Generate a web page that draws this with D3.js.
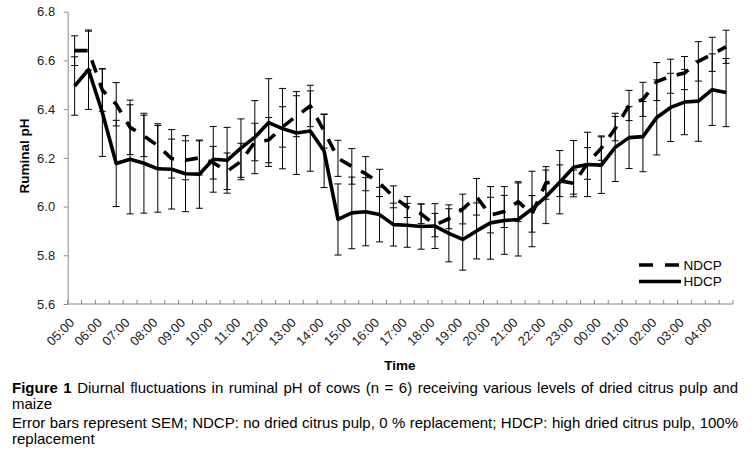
<!DOCTYPE html>
<html><head><meta charset="utf-8">
<script src="https://cdn.jsdelivr.net/npm/d3@7"></script>
<style>
body{margin:0;background:#fff}
svg{display:block}
text{font-family:"Liberation Sans",Arial,Helvetica,sans-serif}
</style>
</head><body>
<svg id="c" width="756" height="451"></svg>
<script>
const times = ["05:00","05:30","06:00","06:30","07:00","07:30","08:00","08:30","09:00","09:30",
  "10:00","10:30","11:00","11:30","12:00","12:30","13:00","13:30","14:00","14:30",
  "15:00","15:30","16:00","16:30","17:00","17:30","18:00","18:30","19:00","19:30",
  "20:00","20:30","21:00","21:30","22:00","22:30","23:00","23:30","00:00","00:30",
  "01:00","01:30","02:00","02:30","03:00","03:30","04:00","04:30"];
const tickLabels = ["05:00","06:00","07:00","08:00","09:00","10:00","11:00","12:00","13:00","14:00",
  "15:00","16:00","17:00","18:00","19:00","20:00","21:00","22:00","23:00","00:00",
  "01:00","02:00","03:00","04:00"];
const ndcp = [6.64,6.64,6.478,6.42,6.325,6.29,6.25,6.197,6.19,6.20,
  6.18,6.145,6.185,6.265,6.273,6.327,6.371,6.413,6.31,6.198,
  6.165,6.135,6.097,6.04,5.998,5.97,5.924,5.95,5.99,6.04,
  5.965,5.98,6.02,5.97,6.097,6.106,6.095,6.177,6.24,6.32,
  6.415,6.44,6.513,6.535,6.548,6.596,6.625,6.656];
const ndcpSem = [0.061,0.08,0.087,0.089,0.112,0.085,0.09,0.08,0.08,0.07,
  0.067,0.075,0.075,0.077,0.093,0.083,0.084,0.085,0.07,0.074,
  0.073,0.07,0.056,0.045,0.043,0.04,0.048,0.041,0.061,0.075,
  0.073,0.066,0.082,0.075,0.067,0.065,0.055,0.065,0.05,0.05,
  0.062,0.07,0.078,0.07,0.068,0.081,0.07,0.068];
const hdcp = [6.495,6.562,6.386,6.177,6.194,6.178,6.155,6.153,6.135,6.133,
  6.194,6.19,6.24,6.285,6.345,6.32,6.302,6.31,6.228,5.947,
  5.974,5.979,5.967,5.926,5.923,5.918,5.92,5.89,5.865,5.9,
  5.933,5.943,5.947,5.99,6.04,6.1,6.161,6.173,6.17,6.243,
  6.283,6.287,6.366,6.407,6.429,6.433,6.48,6.468];
const hdcpSem = [0.12,0.163,0.18,0.177,0.224,0.205,0.178,0.163,0.156,0.14,
  0.135,0.135,0.12,0.15,0.18,0.165,0.17,0.165,0.15,0.146,
  0.147,0.14,0.112,0.088,0.09,0.093,0.092,0.117,0.126,0.115,
  0.149,0.139,0.15,0.155,0.11,0.13,0.11,0.132,0.116,0.14,
  0.127,0.144,0.154,0.14,0.134,0.165,0.147,0.14];
const yTicks = [5.6,5.8,6.0,6.2,6.4,6.6,6.8];
const seriesNames = ["NDCP","HDCP"];

const svg = d3.select("#c");
const L = 67.7, R = 733, T = 11.7, B = 304;
const axisCol = "#878787";
const x = d3.scaleBand().domain(times).range([L, R]);
const y = d3.scaleLinear().domain([5.6, 6.8]).range([B, T]);
const cx = t => x(t) + x.bandwidth() / 2;

// Y axis
const ya = svg.append("g").attr("transform", `translate(${L},0)`)
  .call(d3.axisLeft(y).tickValues(yTicks).tickFormat(d3.format(".1f"))
    .tickSize(4).tickSizeOuter(0).tickPadding(8.5));
ya.select(".domain").attr("stroke", axisCol);
ya.selectAll(".tick line").attr("stroke", axisCol);
ya.selectAll(".tick text").attr("font-size", 13).attr("fill", "#222")
  .attr("font-family", '"Liberation Sans",Arial,sans-serif');

// X axis line + ticks at band boundaries (inward)
const xg = svg.append("g");
xg.append("line").attr("x1", L).attr("x2", R).attr("y1", B).attr("y2", B).attr("stroke", axisCol);
const bounds = times.map(t => x(t)).concat([x.range()[1]]);
xg.selectAll("line.tk").data(bounds).join("line").attr("class", "tk")
  .attr("x1", d => d).attr("x2", d => d).attr("y1", B).attr("y2", B - 4).attr("stroke", axisCol);
xg.selectAll("text.tl").data(tickLabels).join("text").attr("class", "tl")
  .attr("transform", d => `translate(${cx(d) + 0.5},${323.5}) rotate(-45)`)
  .attr("text-anchor", "end").attr("font-size", 13).attr("fill", "#222").text(d => d);

// Error bars
function errBars(vals, sems) {
  const g = svg.append("g").attr("stroke", "#000").attr("stroke-width", 1);
  vals.forEach((v, i) => {
    const px = cx(times[i]);
    const y1 = y(v + sems[i]), y2 = y(v - sems[i]);
    g.append("line").attr("x1", px).attr("x2", px).attr("y1", y1).attr("y2", y2);
    g.append("line").attr("x1", px - 3.5).attr("x2", px + 3.5).attr("y1", y1).attr("y2", y1);
    g.append("line").attr("x1", px - 3.5).attr("x2", px + 3.5).attr("y1", y2).attr("y2", y2);
  });
}
errBars(ndcp, ndcpSem);
errBars(hdcp, hdcpSem);

const line = d3.line().x((d, i) => cx(times[i])).y(d => y(d));
svg.append("path").datum(ndcp).attr("d", line).attr("fill", "none").attr("stroke", "#000")
  .attr("stroke-width", 3.6).attr("stroke-dasharray", "13,11").attr("stroke-linejoin", "round");
svg.append("path").datum(hdcp).attr("d", line).attr("fill", "none").attr("stroke", "#000")
  .attr("stroke-width", 3.6).attr("stroke-linejoin", "round");

// Legend
const lg = svg.append("g");
lg.append("line").attr("x1", 639).attr("x2", 681).attr("y1", 265).attr("y2", 265)
  .attr("stroke", "#000").attr("stroke-width", 3.6).attr("stroke-dasharray", "14,12");
lg.append("line").attr("x1", 639).attr("x2", 681).attr("y1", 281.5).attr("y2", 281.5)
  .attr("stroke", "#000").attr("stroke-width", 3.6);
lg.append("text").attr("x", 683.5).attr("y", 269.5).attr("font-size", 13.5).text(seriesNames[0]);
lg.append("text").attr("x", 683.5).attr("y", 286).attr("font-size", 13.5).text(seriesNames[1]);

// Axis titles
svg.append("text").attr("transform", "translate(29,156) rotate(-90)").attr("text-anchor", "middle")
  .attr("font-size", 13.5).attr("font-weight", "bold").text("Ruminal pH");
svg.append("text").attr("x", 400).attr("y", 369.5).attr("text-anchor", "middle")
  .attr("font-size", 13.5).attr("font-weight", "bold").text("Time");

// Caption
function capLine(parts, yb, target) {
  const t = svg.append("text").attr("x", 12).attr("y", yb).attr("font-size", 15).attr("fill", "#000");
  parts.forEach(p => t.append("tspan").attr("font-weight", p.b ? "bold" : "normal").text(p.s));
  if (target) {
    const w = t.node().getComputedTextLength();
    const full = parts.map(p => p.s).join("");
    const spaces = (full.match(/ /g) || []).length;
    if (w < target && spaces) t.attr("word-spacing", (target - w) / spaces);
    else if (w > target) t.attr("textLength", target).attr("lengthAdjust", "spacingAndGlyphs");
  }
}
capLine([{s: "Figure 1", b: true}, {s: " Diurnal fluctuations in ruminal pH of cows (n = 6) receiving various levels of dried citrus pulp and"}], 393, 726);
capLine([{s: "maize"}], 409);
capLine([{s: "Error bars represent SEM; NDCP: no dried citrus pulp, 0 % replacement; HDCP: high dried citrus pulp, 100%"}], 428, 726);
capLine([{s: "replacement"}], 444);
</script>
</body></html>
